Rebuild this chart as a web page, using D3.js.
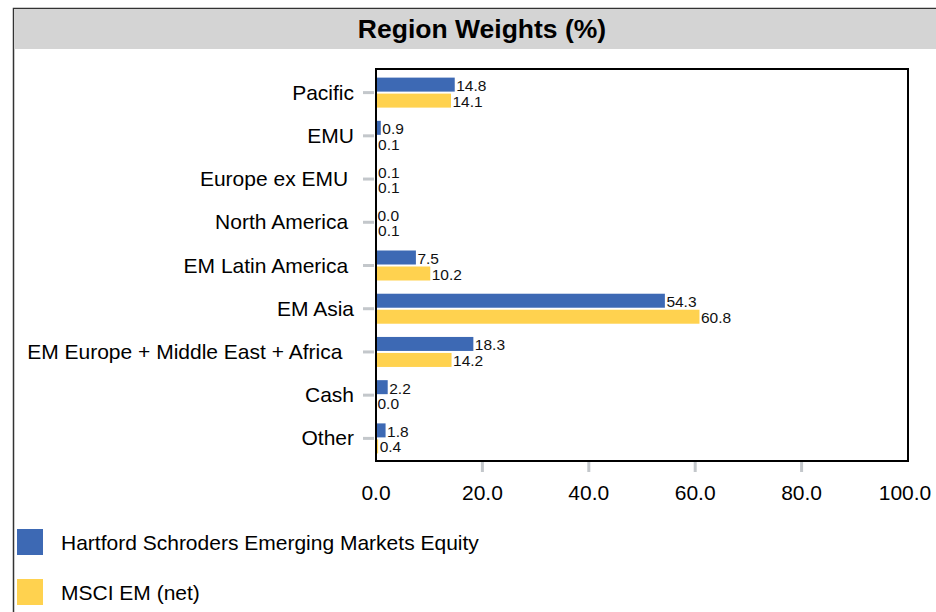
<!DOCTYPE html>
<html>
<head>
<meta charset="utf-8">
<script src="https://cdn.jsdelivr.net/npm/d3@7"></script>
<style>
  body { margin: 0; background: #fff; }
  svg { font-family: "Liberation Sans", Arial, sans-serif; }
  .cat { white-space: pre; }
</style>
</head>
<body>
<div class="chart"></div>
<script>
// chart data (labels keep the trailing spaces of the source)
const categories = ["Pacific", "EMU", "Europe ex EMU ", "North America ", "EM Latin America ", "EM Asia", "EM Europe + Middle East + Africa  ", "Cash", "Other"]
const fundValues = [14.8, 0.9, 0.1, 0.0, 7.5, 54.3, 18.3, 2.2, 1.8]
const benchValues = [14.1, 0.1, 0.1, 0.1, 10.2, 60.8, 14.2, 0.0, 0.4]
const seriesNames = ["Hartford Schroders Emerging Markets Equity", "MSCI EM (net)"]
const xTicks = [0, 20, 40, 60, 80, 100]

const colors = ["#3d69b4", "#ffd24f"]

const w = 936
const h = 612

const svg = d3.select(".chart")
  .append("svg")
  .attr("width", w)
  .attr("height", h)

// outer frame + title band
svg.append("rect")
  .attr("x", 13.5).attr("y", 8.5)
  .attr("width", 960).attr("height", 640)
  .attr("fill", "none").attr("stroke", "#333").attr("stroke-width", 1.5)

svg.append("rect")
  .attr("x", 14).attr("y", 9)
  .attr("width", 940).attr("height", 40)
  .attr("fill", "#d4d4d4")

svg.append("text")
  .attr("x", 482).attr("y", 38)
  .attr("text-anchor", "middle")
  .style("font-size", "26.5px")
  .style("font-weight", "bold")
  .text("Region Weights (%)")

// plot area
const plotLeft = 376, plotRight = 908, plotTop = 69, plotBottom = 461

const xScale = d3.scaleLinear()
  .domain([0, 100])
  .range([plotLeft, plotRight])

const yScale = d3.scaleBand()
  .domain(categories)
  .range([71, 460])

const barH = 14, gap = 2

const rows = categories.map((c, i) => ({ cat: c, vals: [fundValues[i], benchValues[i]] }))

// x axis ticks
svg.append("g")
  .selectAll("line")
  .data(xTicks.slice(1, -1))
  .enter()
  .append("line")
  .attr("x1", d => xScale(d)).attr("x2", d => xScale(d))
  .attr("y1", plotBottom).attr("y2", plotBottom + 11)
  .attr("stroke", "#c3c7cb").attr("stroke-width", 3)

svg.append("g")
  .selectAll("text")
  .data(xTicks)
  .enter()
  .append("text")
  .attr("x", d => xScale(d) - (d == 100 ? 3 : 0))
  .attr("y", 500)
  .attr("text-anchor", "middle")
  .style("font-size", "21px")
  .text(d => d.toFixed(1))

// y axis ticks and labels
svg.append("g")
  .selectAll("line")
  .data(categories)
  .enter()
  .append("line")
  .attr("x1", plotLeft - 13).attr("x2", plotLeft - 2)
  .attr("y1", d => yScale(d) + yScale.bandwidth() / 2)
  .attr("y2", d => yScale(d) + yScale.bandwidth() / 2)
  .attr("stroke", "#c3c7cb").attr("stroke-width", 3)

svg.append("g")
  .selectAll("text")
  .data(categories)
  .enter()
  .append("text")
  .attr("class", "cat")
  .attr("x", 354)
  .attr("y", d => yScale(d) + yScale.bandwidth() / 2 + 7)
  .attr("text-anchor", "end")
  .style("font-size", "21px")
  .text(d => d)

// bars
const groups = svg.selectAll(".row")
  .data(rows)
  .enter()
  .append("g")
  .attr("class", "row")
  .attr("transform", d => "translate(0," + (yScale(d.cat) + yScale.bandwidth() / 2) + ")")

groups.selectAll("rect")
  .data(d => d.vals)
  .enter()
  .append("rect")
  .attr("x", xScale(0))
  .attr("y", (d, i) => i == 0 ? -barH - gap / 2 : gap / 2)
  .attr("width", d => xScale(d) - xScale(0))
  .attr("height", barH)
  .attr("fill", (d, i) => colors[i])

groups.selectAll("text")
  .data(d => d.vals)
  .enter()
  .append("text")
  .attr("x", d => xScale(d) + 1.5)
  .attr("y", (d, i) => i == 0 ? -1.5 : 14)
  .style("font-size", "15.5px")
  .style("fill", "#111")
  .text(d => d.toFixed(1))

// plot frame
svg.append("rect")
  .attr("x", plotLeft).attr("y", plotTop)
  .attr("width", plotRight - plotLeft).attr("height", plotBottom - plotTop)
  .attr("fill", "none").attr("stroke", "#000").attr("stroke-width", 2)

// legend
const legend = svg.selectAll(".legend")
  .data(seriesNames)
  .enter()
  .append("g")
  .attr("class", "legend")
  .attr("transform", (d, i) => "translate(17," + (529 + i * 50) + ")")

legend.append("rect")
  .attr("width", 26).attr("height", 26)
  .attr("fill", (d, i) => colors[i])

legend.append("text")
  .attr("x", 44).attr("y", 21)
  .style("font-size", "21px")
  .text(d => d)
</script>
</body>
</html>
